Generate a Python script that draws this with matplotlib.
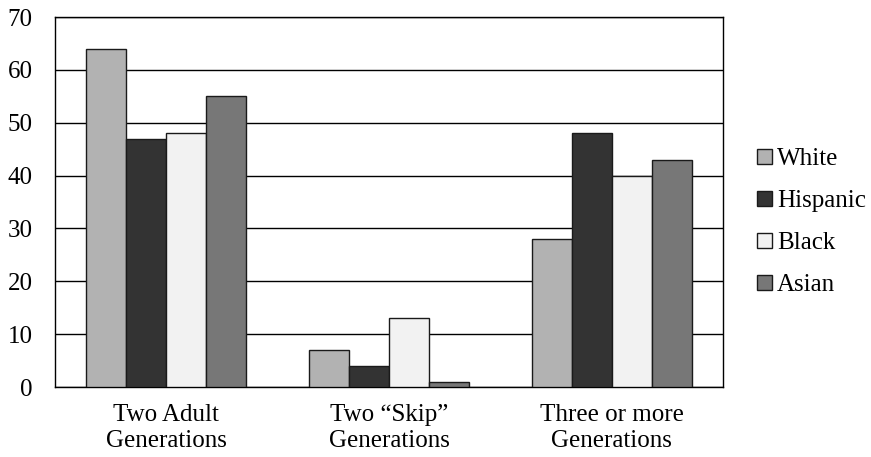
import matplotlib
matplotlib.use('Agg')
import matplotlib.pyplot as plt
import numpy as np

categories = ['Two Adult\nGenerations', 'Two \u201cSkip\u201d\nGenerations', 'Three or more\nGenerations']
series_names = ['White', 'Hispanic', 'Black', 'Asian']
white = [64, 7, 28]
hispanic = [47, 4, 48]
black = [48, 13, 40]
asian = [55, 1, 43]
colors = ['#b2b2b2', '#333333', '#f2f2f2', '#777777']

plt.rcParams['font.family'] = ['Liberation Serif', 'DejaVu Serif']

fig = plt.figure(figsize=(8.71, 4.57), dpi=100)
ax = fig.add_axes([55/871, 70/457, 668/871, 370/457])

x = np.arange(len(categories))
w = 0.18
for i, (vals, name) in enumerate(zip([white, hispanic, black, asian], series_names)):
    ax.bar(x + (i - 1.5) * w, vals, w, color=colors[i], edgecolor='#1a1a1a',
           linewidth=1, label=name, zorder=3)

ax.set_xlim(-0.5, 2.5)
ax.set_ylim(0, 70)
ax.set_yticks(range(0, 71, 10))
ax.yaxis.grid(True, color='black', linewidth=1, zorder=0)
ax.set_xticks(x, categories)
ax.tick_params(length=0, labelsize=18)
ax.tick_params(axis='y', pad=16)
ax.tick_params(axis='x', pad=12)
for lbl in ax.get_xticklabels():
    lbl.set_linespacing(1.25)
for s in ax.spines.values():
    s.set_linewidth(1)
    s.set_color('black')

leg = ax.legend(loc='center left', bbox_to_anchor=(1.032, 0.445), frameon=False,
                fontsize=18, handlelength=0.6, handleheight=0.6,
                handletextpad=0.2, labelspacing=0.8, borderpad=0)

fig.savefig('out.png', dpi=100)
